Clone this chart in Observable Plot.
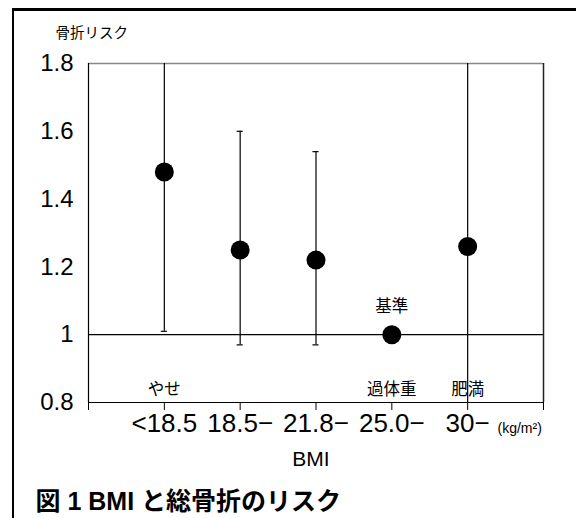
<!DOCTYPE html>
<html>
<head>
<meta charset="utf-8">
<script src="https://cdn.jsdelivr.net/npm/d3@7"></script>
<script src="https://cdn.jsdelivr.net/npm/@observablehq/plot@0.6"></script>
<style>
  html, body { margin: 0; padding: 0; background: #fff; }
  #wrap { position: relative; width: 576px; height: 518px; overflow: hidden; background: #fff; }
  #border { position: absolute; left: 12px; top: 8px; width: 700px; height: 700px;
            border-top: 3px solid #000; border-left: 2px solid #000; box-sizing: border-box; pointer-events: none; }
  #chart { position: absolute; left: 0; top: 0; }
</style>
</head>
<body>
<div id="wrap"><div id="chart"></div><div id="border"></div></div>
<script>
const categories = ["<18.5", "18.5−", "21.8−", "25.0−", "30−"];
const classLabels = ["やせ", "", "", "過体重", "肥満"];
const risk = [1.48, 1.25, 1.22, 1.00, 1.26];
const lower = [1.01, 0.97, 0.97, null, 0.62];
const upper = [2.10, 1.60, 1.54, null, 2.45];
const yTicks = [0.8, 1.0, 1.2, 1.4, 1.6, 1.8];
const yTickLabels = ["0.8", "1", "1.2", "1.4", "1.6", "1.8"];
const referenceLabel = "基準";
const referenceIndex = 3;
const yTitle = "骨折リスク";
const xTitle = "BMI";
const unitLabel = "(kg/m²)";
const figTitle = "図 1 BMI と総骨折のリスク";

const data = categories.map((c, i) => ({
  pos: i + 1, cat: c, cls: classLabels[i], risk: risk[i], lo: lower[i], hi: upper[i]
}));
const yMin = 0.8, yMax = 1.8;
const ciData = data.filter(d => d.lo != null && d.hi != null);
const caps = [];
ciData.forEach(d => {
  if (d.lo >= yMin && d.lo <= yMax) caps.push({pos: d.pos, y: d.lo});
  if (d.hi >= yMin && d.hi <= yMax) caps.push({pos: d.pos, y: d.hi});
});
const xTickVals = d3.range(0, categories.length + 2);
const font = "'Liberation Sans', 'Noto Sans CJK JP', Arial, sans-serif";

const chart = Plot.plot({
  width: 576,
  height: 518,
  marginTop: 63,
  marginRight: 33,
  marginBottom: 116,
  marginLeft: 88,
  style: { fontFamily: font, color: "#000", background: "transparent", overflow: "visible" },
  x: { type: "linear", domain: [0, categories.length + 1] },
  y: { domain: [yMin, yMax] },
  marks: [
    Plot.ruleY([1.0], { stroke: "#000", strokeWidth: 1.2 }),
    Plot.ruleY([yMax], { stroke: "#888", strokeWidth: 1.5 }),
    Plot.ruleX([categories.length + 1], { stroke: "#222", strokeWidth: 1.5 }),
    Plot.ruleX([0], { stroke: "#000", strokeWidth: 1.2 }),
    Plot.ruleY([yMin], { stroke: "#000", strokeWidth: 1.2 }),
    Plot.axisX({
      ticks: xTickVals, tickSize: 8, tickPadding: 3, fontSize: 26,
      tickFormat: v => (v >= 1 && v <= categories.length) ? categories[v - 1] : "",
      label: null, stroke: "#000"
    }),
    Plot.axisY({
      ticks: yTicks, tickSize: 0, tickPadding: 15, fontSize: 24,
      tickFormat: v => yTickLabels[yTicks.findIndex(t => Math.abs(t - v) < 1e-9)],
      label: null
    }),
    Plot.ruleX(ciData, { x: "pos", y1: "lo", y2: "hi", stroke: "#000", strokeWidth: 1.2, clip: true }),
    Plot.ruleY(caps, { y: "y", x1: d => d.pos - 0.04, x2: d => d.pos + 0.04, stroke: "#000", strokeWidth: 1.2 }),
    Plot.dot(data, { x: "pos", y: "risk", r: 9.5, fill: "#000", stroke: "none" }),
    Plot.text(data.filter(d => d.cls), { x: "pos", y: yMin, text: "cls", dy: -13, fontSize: 16.5, fill: "#000" }),
    Plot.text([data[referenceIndex]], { x: "pos", y: "risk", text: () => referenceLabel, dy: -28, fontSize: 16.5, fill: "#000" }),
    Plot.text([yTitle], { frameAnchor: "top-left", dx: -33, dy: -30, textAnchor: "start", lineAnchor: "middle", fontSize: 14.5, fill: "#000" }),
    Plot.text([unitLabel], { frameAnchor: "bottom-right", dx: -46, dy: 26, textAnchor: "start", lineAnchor: "middle", fontSize: 14, fill: "#000" }),
    Plot.text([xTitle], { frameAnchor: "bottom", dx: -5, dy: 57, lineAnchor: "middle", fontSize: 21, fill: "#000" }),
    Plot.text([figTitle], { frameAnchor: "bottom-left", dx: -53, dy: 99, textAnchor: "start", lineAnchor: "middle", fontSize: 25, fontWeight: "bold", fill: "#000" })
  ]
});
document.getElementById("chart").appendChild(chart);
</script>
</body>
</html>
